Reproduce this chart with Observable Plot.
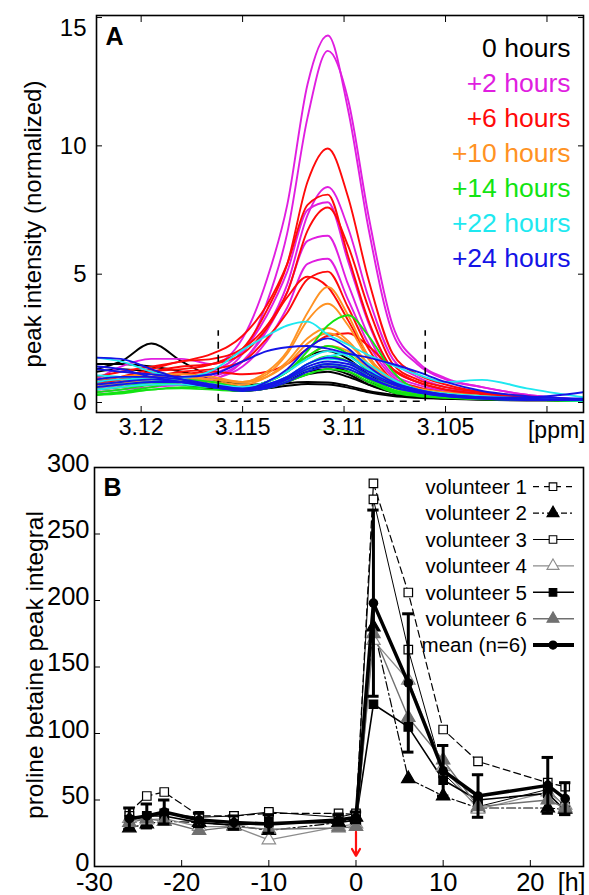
<!DOCTYPE html>
<html><head><meta charset="utf-8">
<script src="https://cdn.jsdelivr.net/npm/d3@7"></script>
<script src="https://cdn.jsdelivr.net/npm/@observablehq/plot@0.6"></script>
<style>
body{margin:0;background:#fff;font-family:"Liberation Sans",Arial,sans-serif;}
#wrap{position:relative;width:589px;height:895px;overflow:hidden;}
#wrap svg{display:block}
#legB{position:absolute;left:0;top:440px;}
</style></head><body><div id="wrap"><div id="a"></div><div id="b"></div></div>
<script>
// ---------- Panel A data ----------
const ppmGrid = [3.1222, 3.1210, 3.1195, 3.1180, 3.1165, 3.1150, 3.1138, 3.1128, 3.1118, 3.1108, 3.1098, 3.1088, 3.1076, 3.1064, 3.1050, 3.1032, 3.1010, 3.0982];
const spectra0h = [
  [1.3,1.6,2.3,1.6,1.0,0.7,0.7,0.9,1.2,1.3,1.1,0.7,0.4,0.25,0.2,0.15,0.1,0.08],
  [1.5,1.5,1.4,1.2,0.9,0.6,0.8,1.2,1.8,2.0,1.7,1.1,0.6,0.35,0.25,0.18,0.12,0.08],
  [1.2,1.3,1.2,1.0,0.7,0.5,0.6,0.9,1.3,1.4,1.2,0.8,0.45,0.3,0.2,0.15,0.1,0.08],
  [0.9,1.0,1.0,0.9,0.6,0.45,0.6,0.75,0.8,0.78,0.65,0.45,0.3,0.2,0.15,0.12,0.1,0.08],
  [0.6,0.7,0.8,0.7,0.55,0.45,0.55,0.65,0.72,0.7,0.58,0.4,0.25,0.18,0.14,0.1,0.08,0.08],
  [0.8,0.9,1.0,0.9,0.6,0.45,0.55,0.8,1.1,1.2,1.0,0.7,0.4,0.25,0.18,0.12,0.1,0.08]
];
const spectra2h = [
  [0.9,1.4,1.7,1.7,1.5,2.5,4.8,7.7,12.4,14.3,11.4,6.8,2.7,1.5,0.9,0.6,0.3,0.1],
  [0.6,0.7,0.9,0.9,1.1,1.9,3.9,6.6,11.1,13.7,11.8,7.3,3.0,1.6,0.95,0.6,0.3,0.1],
  [0.5,0.6,0.7,0.8,0.9,1.6,2.9,4.6,7.3,8.4,6.8,4.1,1.7,1.0,0.6,0.4,0.2,0.1],
  [0.6,0.7,0.8,0.9,1.2,2.0,3.4,5.1,7.5,7.8,5.5,3.1,1.3,0.8,0.5,0.4,0.2,0.1],
  [0.5,0.6,0.7,0.8,1.0,1.6,2.8,4.3,6.3,6.5,4.6,2.6,1.1,0.7,0.45,0.3,0.2,0.1],
  [0.4,0.5,0.6,0.7,0.9,1.4,2.4,3.7,5.4,5.6,4.0,2.3,1.0,0.6,0.4,0.3,0.2,0.1]
];
const spectra6h = [
  [0.7,0.9,1.2,1.3,1.5,2.1,3.6,5.4,8.6,9.9,8.0,4.8,1.9,1.1,0.7,0.4,0.25,0.1],
  [1.0,1.2,1.4,1.6,1.9,2.6,3.8,5.4,7.7,8.1,5.7,3.2,1.3,0.8,0.5,0.35,0.2,0.1],
  [0.8,1.0,1.3,1.6,1.7,2.1,3.0,4.3,6.7,7.6,6.1,3.7,1.5,0.9,0.6,0.4,0.2,0.1],
  [0.6,0.8,1.0,1.2,1.3,1.6,2.5,3.5,4.8,5.1,3.7,2.1,0.9,0.6,0.4,0.3,0.2,0.1],
  [0.7,0.9,1.2,1.4,1.5,1.9,2.9,4.1,4.9,4.5,3.2,1.8,0.8,0.5,0.35,0.25,0.15,0.1],
  [0.6,0.7,0.9,1.1,1.2,1.1,1.2,1.5,2.1,2.6,2.7,2.2,1.3,0.8,0.5,0.3,0.2,0.1]
];
const spectra10h = [
  [0.6,0.7,0.9,1.0,0.9,0.8,1.2,2.0,3.5,4.5,3.4,1.8,0.9,0.55,0.4,0.25,0.15,0.1],
  [0.7,0.8,0.9,1.0,0.9,0.8,1.1,1.9,3.2,3.85,3.0,1.7,0.8,0.5,0.35,0.25,0.15,0.1],
  [0.5,0.6,0.8,0.9,0.8,0.7,1.0,1.6,2.5,2.9,2.4,1.5,0.7,0.45,0.3,0.2,0.15,0.1],
  [0.9,1.0,1.1,1.1,1.0,0.8,1.0,1.5,2.3,2.7,2.3,1.5,0.7,0.4,0.3,0.2,0.15,0.1],
  [0.6,0.8,1.0,1.0,0.8,0.6,0.8,1.2,1.8,2.2,2.0,1.3,0.6,0.35,0.25,0.2,0.15,0.1]
];
const spectra14h = [
  [0.3,0.4,0.6,0.8,0.7,0.6,0.8,1.2,2.0,3.0,3.4,2.6,1.2,0.5,0.3,0.2,0.12,0.08],
  [0.4,0.5,0.7,0.8,0.7,0.6,0.8,1.2,1.8,2.2,1.9,1.2,0.6,0.35,0.25,0.15,0.1,0.08],
  [0.5,0.6,0.8,0.9,0.8,0.6,0.7,1.0,1.5,1.8,1.6,1.0,0.5,0.3,0.2,0.15,0.1,0.08],
  [0.3,0.4,0.5,0.6,0.6,0.5,0.6,0.9,1.3,1.5,1.3,0.9,0.45,0.3,0.2,0.15,0.1,0.08],
  [0.3,0.35,0.5,0.55,0.5,0.45,0.55,0.8,1.1,1.3,1.2,0.8,0.4,0.25,0.18,0.12,0.1,0.06]
];
const spectra22h = [
  [1.05,1.0,0.9,0.95,1.25,2.05,2.6,3.0,3.15,2.65,2.25,1.85,1.45,1.1,0.8,0.88,0.55,0.2],
  [1.75,1.6,1.2,0.9,0.7,0.6,0.8,1.2,1.7,2.0,1.8,1.3,0.8,0.5,0.35,0.25,0.15,0.1],
  [0.8,0.9,0.9,0.8,0.6,0.5,0.7,1.0,1.5,1.7,1.6,1.2,0.8,0.5,0.3,0.2,0.15,0.1],
  [0.5,0.6,0.7,0.7,0.6,0.5,0.6,0.9,1.3,1.5,1.4,1.0,0.6,0.4,0.25,0.2,0.12,0.08],
  [0.6,0.7,0.8,0.8,0.7,0.6,0.7,1.0,1.5,1.8,1.9,1.5,0.9,0.5,0.3,0.2,0.12,0.08]
];
const spectra24h = [
  [1.75,1.7,1.3,0.9,0.6,0.5,0.8,1.3,2.1,2.5,2.1,1.4,0.8,0.5,0.3,0.2,0.2,0.4],
  [1.3,1.2,1.1,1.0,1.1,1.6,2.0,2.15,2.2,2.1,1.9,1.75,1.5,1.2,0.8,0.45,0.25,0.15],
  [0.9,1.0,1.0,0.9,0.7,0.55,0.7,1.0,1.5,1.75,1.6,1.2,0.75,0.5,0.3,0.2,0.15,0.1],
  [0.6,0.7,0.8,0.8,0.65,0.5,0.65,0.95,1.4,1.6,1.5,1.1,0.7,0.45,0.3,0.2,0.12,0.1],
  [1.4,1.3,1.0,0.8,0.6,0.5,0.6,0.9,1.3,1.5,1.4,1.0,0.6,0.4,0.25,0.15,0.1,0.1],
  [0.7,0.8,0.9,0.8,0.6,0.45,0.55,0.8,1.2,1.4,1.3,0.95,0.6,0.4,0.25,0.15,0.1,0.1]
];
const groupLabels = ["0 hours", "+2 hours", "+6 hours", "+10 hours", "+14 hours", "+22 hours", "+24 hours"];
const groupColors = ["#000000", "#e01ee0", "#ff0a0a", "#ff9223", "#12e412", "#1ee8f0", "#1414e6"];
const groupSpectra = [spectra0h, spectra2h, spectra6h, spectra10h, spectra14h, spectra22h, spectra24h];
const integrationBounds = [3.1162, 3.1060];
const integrationTop = 2.8;
const xTicksA = [3.12, 3.115, 3.11, 3.105, 3.10];
const xLabelsA = [3.12, 3.115, 3.11, 3.105];
const yTicksA = [0, 5, 10, 15];

// ---------- Panel B data ----------
const hoursB = [-26, -24, -22, -18, -14, -10, -2, 0, 2, 6, 10, 14, 22, 24];
const volunteer1 = [41, 53, 56, 38, 38, 40, 40, 39, 288, 206, 103, 79, 63, 60];
const volunteer2 = [29, 32, 34, 33, 31, 27, 33, 37, 180, 66, 53, 44, 44, 43];
const volunteer3 = [38, 37, 40, 37, 38, 41, 37, 40, 276, 163, 70, 45, 58, 45];
const volunteer4 = [36, 35, 36, 30, 30, 20, 30, 32, 170, 140, 75, 43, 56, 46];
const volunteer5 = [35, 38, 38, 33, 31, 33, 33, 35, 122, 105, 65, 50, 55, 42];
const volunteer6 = [33, 36, 34, 27, 30, 28, 29, 30, 175, 112, 80, 45, 50, 44];
const meanValues = [36, 38, 41, 35, 33, 32, 35, 37, 198, 138, 72, 53, 61, 51];
const meanErrors = [8, 9, 9, 5, 5, 7, 4, 4, 70, 52, 19, 16, 21, 12];
const seriesLabels = ["volunteer 1", "volunteer 2", "volunteer 3", "volunteer 4", "volunteer 5", "volunteer 6", "mean (n=6)"];
const doseTime = 0, arrowFrom = 26, arrowTo = 8;
const xTicksB = [-30, -20, -10, 0, 10, 20];
const yTicksB = [0, 50, 100, 150, 200, 250, 300];

const FONT = "Liberation Sans, Arial, Helvetica, sans-serif";

// ---------- Panel A ----------
const specMarks = groupSpectra.map((group, gi) => {
  const rows = [];
  group.forEach((vals, ci) => vals.forEach((v, i) => rows.push({ppm: ppmGrid[i], value: v, id: gi + "-" + ci})));
  return Plot.line(rows, {x: "ppm", y: "value", z: "id", stroke: groupColors[gi], strokeWidth: 1.9, curve: "monotone-x", clip: true});
});
const legendA = groupLabels.map((lab, i) => Plot.text([lab], {
  frameAnchor: "top-right", text: d => d, dx: -13, dy: 33 + i * 35, textAnchor: "end", lineAnchor: "middle",
  fill: groupColors[i], fontSize: 26.5
}));

const plotA = Plot.plot({
  width: 589, height: 440,
  marginTop: 15, marginBottom: 28, marginLeft: 96, marginRight: 6,
  style: {fontFamily: FONT, fontSize: "22px", color: "#000", background: "#fff", overflow: "visible"},
  x: {domain: [3.1222, 3.0982]},
  y: {domain: [-0.39, 15.08]},
  marks: [
    ...specMarks,
    Plot.ruleX(integrationBounds, {y1: 0.05, y2: integrationTop, stroke: "#000", strokeWidth: 1.6, strokeDasharray: "7,6"}),
    Plot.ruleY([0.05], {x1: integrationBounds[0], x2: integrationBounds[1], stroke: "#000", strokeWidth: 1.6, strokeDasharray: "7,6"}),
    Plot.frame({stroke: "#000", strokeWidth: 1.6}),
    Plot.axisX({ticks: xLabelsA, tickSize: 0, tickPadding: 6, tickFormat: d => String(+d.toFixed(3)), label: null, fontSize: 23}),
    Plot.axisX({ticks: xTicksA, tickSize: -6, tickFormat: () => "", label: null}),
    Plot.axisX({anchor: "top", ticks: xTicksA, tickSize: -6, tickFormat: () => "", label: null}),
    Plot.axisY({ticks: [0, 5, 10], tickSize: 0, tickPadding: 10, label: null, fontSize: 24}),
    Plot.axisY({ticks: [15], tickSize: 0, tickPadding: 10, label: null, fontSize: 24, dy: 11}),
    Plot.axisY({ticks: yTicksA, tickSize: -6, tickFormat: () => "", label: null}),
    Plot.axisY({anchor: "right", ticks: yTicksA, tickSize: -6, tickFormat: () => "", label: null}),
    Plot.text(["peak intensity (normalized)"], {frameAnchor: "left", text: d => d, rotate: -90, dx: -63, dy: 10, fontSize: 24, textAnchor: "middle", lineAnchor: "middle"}),
    Plot.text(["[ppm]"], {frameAnchor: "bottom-right", text: d => d, dx: 2, dy: 18, fontSize: 23, textAnchor: "end", lineAnchor: "middle"}),
    Plot.text(["A"], {frameAnchor: "top-left", text: d => d, dx: 9, dy: 21, fontSize: 25, fontWeight: "bold", textAnchor: "start", lineAnchor: "middle"}),
    ...legendA
  ]
});
document.getElementById("a").appendChild(plotA);

// ---------- Panel B ----------
const volunteers = [volunteer1, volunteer2, volunteer3, volunteer4, volunteer5, volunteer6];
const vStyles = [
  {stroke: "#000", width: 1.2, dash: "7,4", symbol: "square", fill: "#fff", mstroke: "#000", r: 4.8},
  {stroke: "#000", width: 1.2, dash: "9,3,2,3", symbol: "triangle", fill: "#000", mstroke: "#000", r: 5},
  {stroke: "#000", width: 1.0, dash: null, symbol: "square", fill: "#fff", mstroke: "#000", r: 4.8},
  {stroke: "#8c8c8c", width: 1.3, dash: null, symbol: "triangle", fill: "#fff", mstroke: "#8c8c8c", r: 5},
  {stroke: "#000", width: 1.6, dash: null, symbol: "square", fill: "#000", mstroke: "#000", r: 4.8},
  {stroke: "#707070", width: 1.4, dash: null, symbol: "triangle", fill: "#707070", mstroke: "#707070", r: 5}
];
const vRows = volunteers.map(v => v.map((y, i) => ({t: hoursB[i], y})));
const meanRows = meanValues.map((m, i) => ({t: hoursB[i], y: m, lo: m - meanErrors[i], hi: m + meanErrors[i]}));

const vLineMarks = vRows.map((rows, k) => Plot.line(rows, {x: "t", y: "y", stroke: vStyles[k].stroke, strokeWidth: vStyles[k].width, strokeDasharray: vStyles[k].dash}));
const vDotMarks = vRows.map((rows, k) => Plot.dot(rows, {x: "t", y: "y", symbol: vStyles[k].symbol, r: vStyles[k].r, fill: vStyles[k].fill, stroke: vStyles[k].mstroke, strokeWidth: 1.2}));

const plotB = Plot.plot({
  width: 589, height: 455,
  marginTop: 27, marginBottom: 29, marginLeft: 94, marginRight: 6,
  style: {fontFamily: FONT, fontSize: "25px", color: "#000", background: "#fff", overflow: "visible"},
  x: {domain: [-30, 26.1]},
  y: {domain: [0, 300]},
  marks: [
    ...vLineMarks,
    ...vDotMarks,
    Plot.ruleX(meanRows, {x: "t", y1: "lo", y2: "hi", stroke: "#000", strokeWidth: 3}),
    Plot.ruleY(meanRows, {y: "hi", x1: d => d.t - 0.65, x2: d => d.t + 0.65, stroke: "#000", strokeWidth: 3}),
    Plot.ruleY(meanRows, {y: "lo", x1: d => d.t - 0.65, x2: d => d.t + 0.65, stroke: "#000", strokeWidth: 3}),
    Plot.line(meanRows, {x: "t", y: "y", stroke: "#000", strokeWidth: 3.5}),
    Plot.dot(meanRows, {x: "t", y: "y", r: 4.8, fill: "#000"}),
    Plot.arrow([doseTime], {x1: d => d, x2: d => d, y1: arrowFrom, y2: arrowTo, stroke: "#ff1010", strokeWidth: 2.2, headLength: 9}),
    Plot.frame({stroke: "#000", strokeWidth: 1.6}),
    Plot.axisX({ticks: xTicksB, tickSize: 0, tickPadding: 6, label: null, fontSize: 25.5, tickFormat: d => String(d)}),
    Plot.axisX({ticks: xTicksB, tickSize: -6, tickFormat: () => "", label: null}),
    Plot.axisY({ticks: yTicksB, tickSize: 0, tickPadding: 5, label: null, fontSize: 25.5, dy: -4}),
    Plot.axisY({ticks: yTicksB, tickSize: -6, tickFormat: () => "", label: null}),
    Plot.text(["proline betaine peak integral"], {frameAnchor: "left", text: d => d, rotate: -90, dx: -59, dy: -2, fontSize: 24.5, textAnchor: "middle", lineAnchor: "middle"}),
    Plot.text(["[h]"], {frameAnchor: "bottom-right", text: d => d, dx: 2, dy: 16, fontSize: 25, textAnchor: "end", lineAnchor: "middle"}),
    Plot.text(["B"], {frameAnchor: "top-left", text: d => d, dx: 9, dy: 20, fontSize: 25, fontWeight: "bold", textAnchor: "start", lineAnchor: "middle"})
  ]
});
document.getElementById("b").appendChild(plotB);

// ---------- Panel B legend (overlay) ----------
const leg = d3.select("#wrap").append("svg").attr("id", "legB").attr("width", 589).attr("height", 455)
  .style("font-family", FONT);
const legStyles = [...vStyles, {stroke: "#000", width: 4, dash: null, symbol: "circle", fill: "#000", mstroke: "#000", r: 4.5}];
const symMap = {square: d3.symbolSquare, triangle: d3.symbolTriangle, circle: d3.symbolCircle};
seriesLabels.forEach((lab, i) => {
  const y = 46.7 + i * 26.4;
  const s = legStyles[i];
  leg.append("text").attr("x", 527).attr("y", y).attr("dy", "0.36em").attr("text-anchor", "end")
    .attr("font-size", 20.5).attr("fill", "#000").text(lab);
  leg.append("line").attr("x1", 533).attr("x2", 574).attr("y1", y).attr("y2", y)
    .attr("stroke", s.stroke).attr("stroke-width", s.width).attr("stroke-dasharray", s.dash ? (i === 0 ? "6,5" : "6,3,2,3") : null);
  leg.append("path").attr("d", d3.symbol(symMap[s.symbol], s.r * s.r * Math.PI * 0.8)())
    .attr("transform", `translate(553,${y})`).attr("fill", s.fill).attr("stroke", s.mstroke).attr("stroke-width", 1.1);
});
</script></body></html>
